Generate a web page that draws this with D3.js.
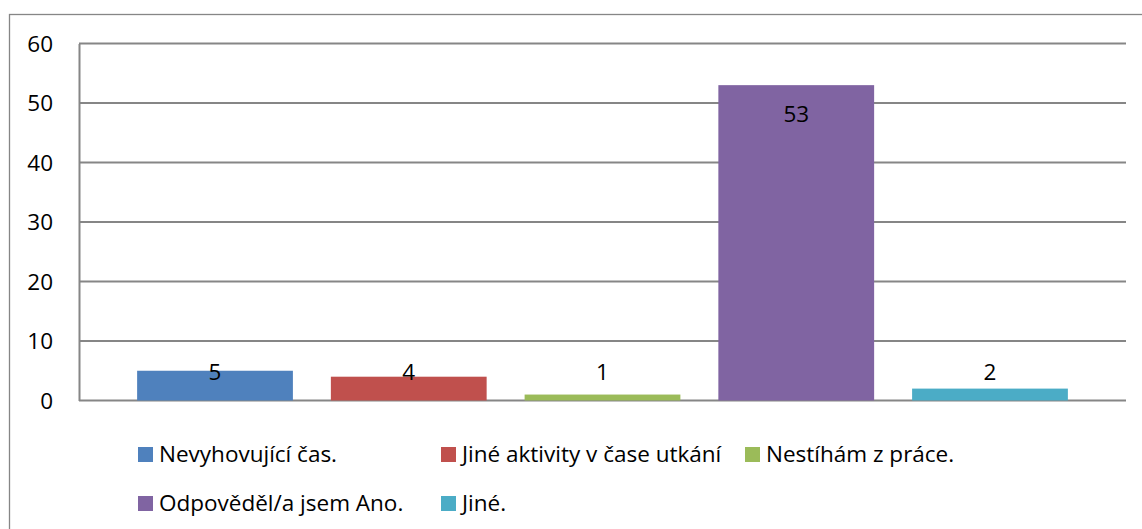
<!DOCTYPE html>
<html>
<head>
<meta charset="utf-8">
<script src="https://cdn.jsdelivr.net/npm/d3@7"></script>
<style>
  body { margin: 0; background: #fff; }
  svg text { font-family: "Open Sans", "Noto Sans", sans-serif; fill: #000; }
</style>
</head>
<body>
<svg id="chart" width="1142" height="529"></svg>
<script>
// data
var kategorie = ["Nevyhovující čas.", "Jiné aktivity v čase utkání", "Nestíhám z práce.", "Odpověděl/a jsem Ano.", "Jiné."];
var hodnoty = [5, 4, 1, 53, 2];
var barvy = ["#4F81BD", "#C0504D", "#9BBB59", "#8064A2", "#4BACC6"];
var osaY = [0, 10, 20, 30, 40, 50, 60];

var svg = d3.select("#chart");

var plotLeft = 79, plotRight = 1126;
var plotTop = 43.5, plotBottom = 400.5;
var velikost = "22.5px";

var x = d3.scaleBand()
	.domain(kategorie)
	.range([plotLeft, plotRight])
	.paddingInner(0.196)
	.paddingOuter(0.3);

var y = d3.scaleLinear()
	.domain([0, 60])
	.range([plotBottom, plotTop]);

// outer frame
svg.append("rect")
	.attr("x", 9.5).attr("y", 14.5)
	.attr("width", 1300).attr("height", 700)
	.attr("fill", "none")
	.attr("stroke", "#868686")
	.attr("stroke-width", 1.3);

// gridlines
svg.append("g")
	.selectAll("line")
	.data(osaY)
	.enter()
	.append("line")
	.attr("x1", plotLeft).attr("x2", plotRight)
	.attr("y1", function(d){ return y(d); })
	.attr("y2", function(d){ return y(d); })
	.attr("stroke", "#868686")
	.attr("stroke-width", 2);

// y axis
var yAxis = d3.axisLeft(y).tickValues(osaY).tickSize(0).tickPadding(26);
var gY = svg.append("g")
	.attr("transform", "translate(" + plotLeft + ",0)")
	.call(yAxis);
gY.select(".domain").attr("stroke", "#868686").attr("stroke-width", 2);
gY.selectAll("text")
	.style("font-size", velikost)
	.attr("dy", "0.35em");

// bars
svg.append("g")
	.selectAll("rect")
	.data(hodnoty)
	.enter()
	.append("rect")
	.attr("x", function(d, i){ return x(kategorie[i]); })
	.attr("y", function(d){ return y(d); })
	.attr("width", x.bandwidth())
	.attr("height", function(d){ return y(0) - y(d); })
	.attr("fill", function(d, i){ return barvy[i]; });

// value labels
svg.append("g")
	.selectAll("text")
	.data(hodnoty)
	.enter()
	.append("text")
	.attr("x", function(d, i){ return x(kategorie[i]) + x.bandwidth() / 2; })
	.attr("y", function(d){
		var stred = Math.min(y(d) + 29, y(0) - 28);
		return stred;
	})
	.attr("dy", "0.35em")
	.attr("text-anchor", "middle")
	.style("font-size", velikost)
	.text(function(d){ return d; });

// legend
var legPos = [[138, 454], [441, 454], [745, 454], [138, 503], [441, 503]];
var leg = svg.append("g")
	.selectAll("g")
	.data(kategorie)
	.enter()
	.append("g")
	.attr("transform", function(d, i){ return "translate(" + legPos[i][0] + "," + legPos[i][1] + ")"; });

leg.append("rect")
	.attr("x", 0).attr("y", -7)
	.attr("width", 15).attr("height", 15)
	.attr("fill", function(d, i){ return barvy[i]; });

leg.append("text")
	.attr("x", 21)
	.attr("y", 0)
	.attr("dy", "0.35em")
	.style("font-size", velikost)
	.text(function(d){ return d; });
</script>
</body>
</html>
